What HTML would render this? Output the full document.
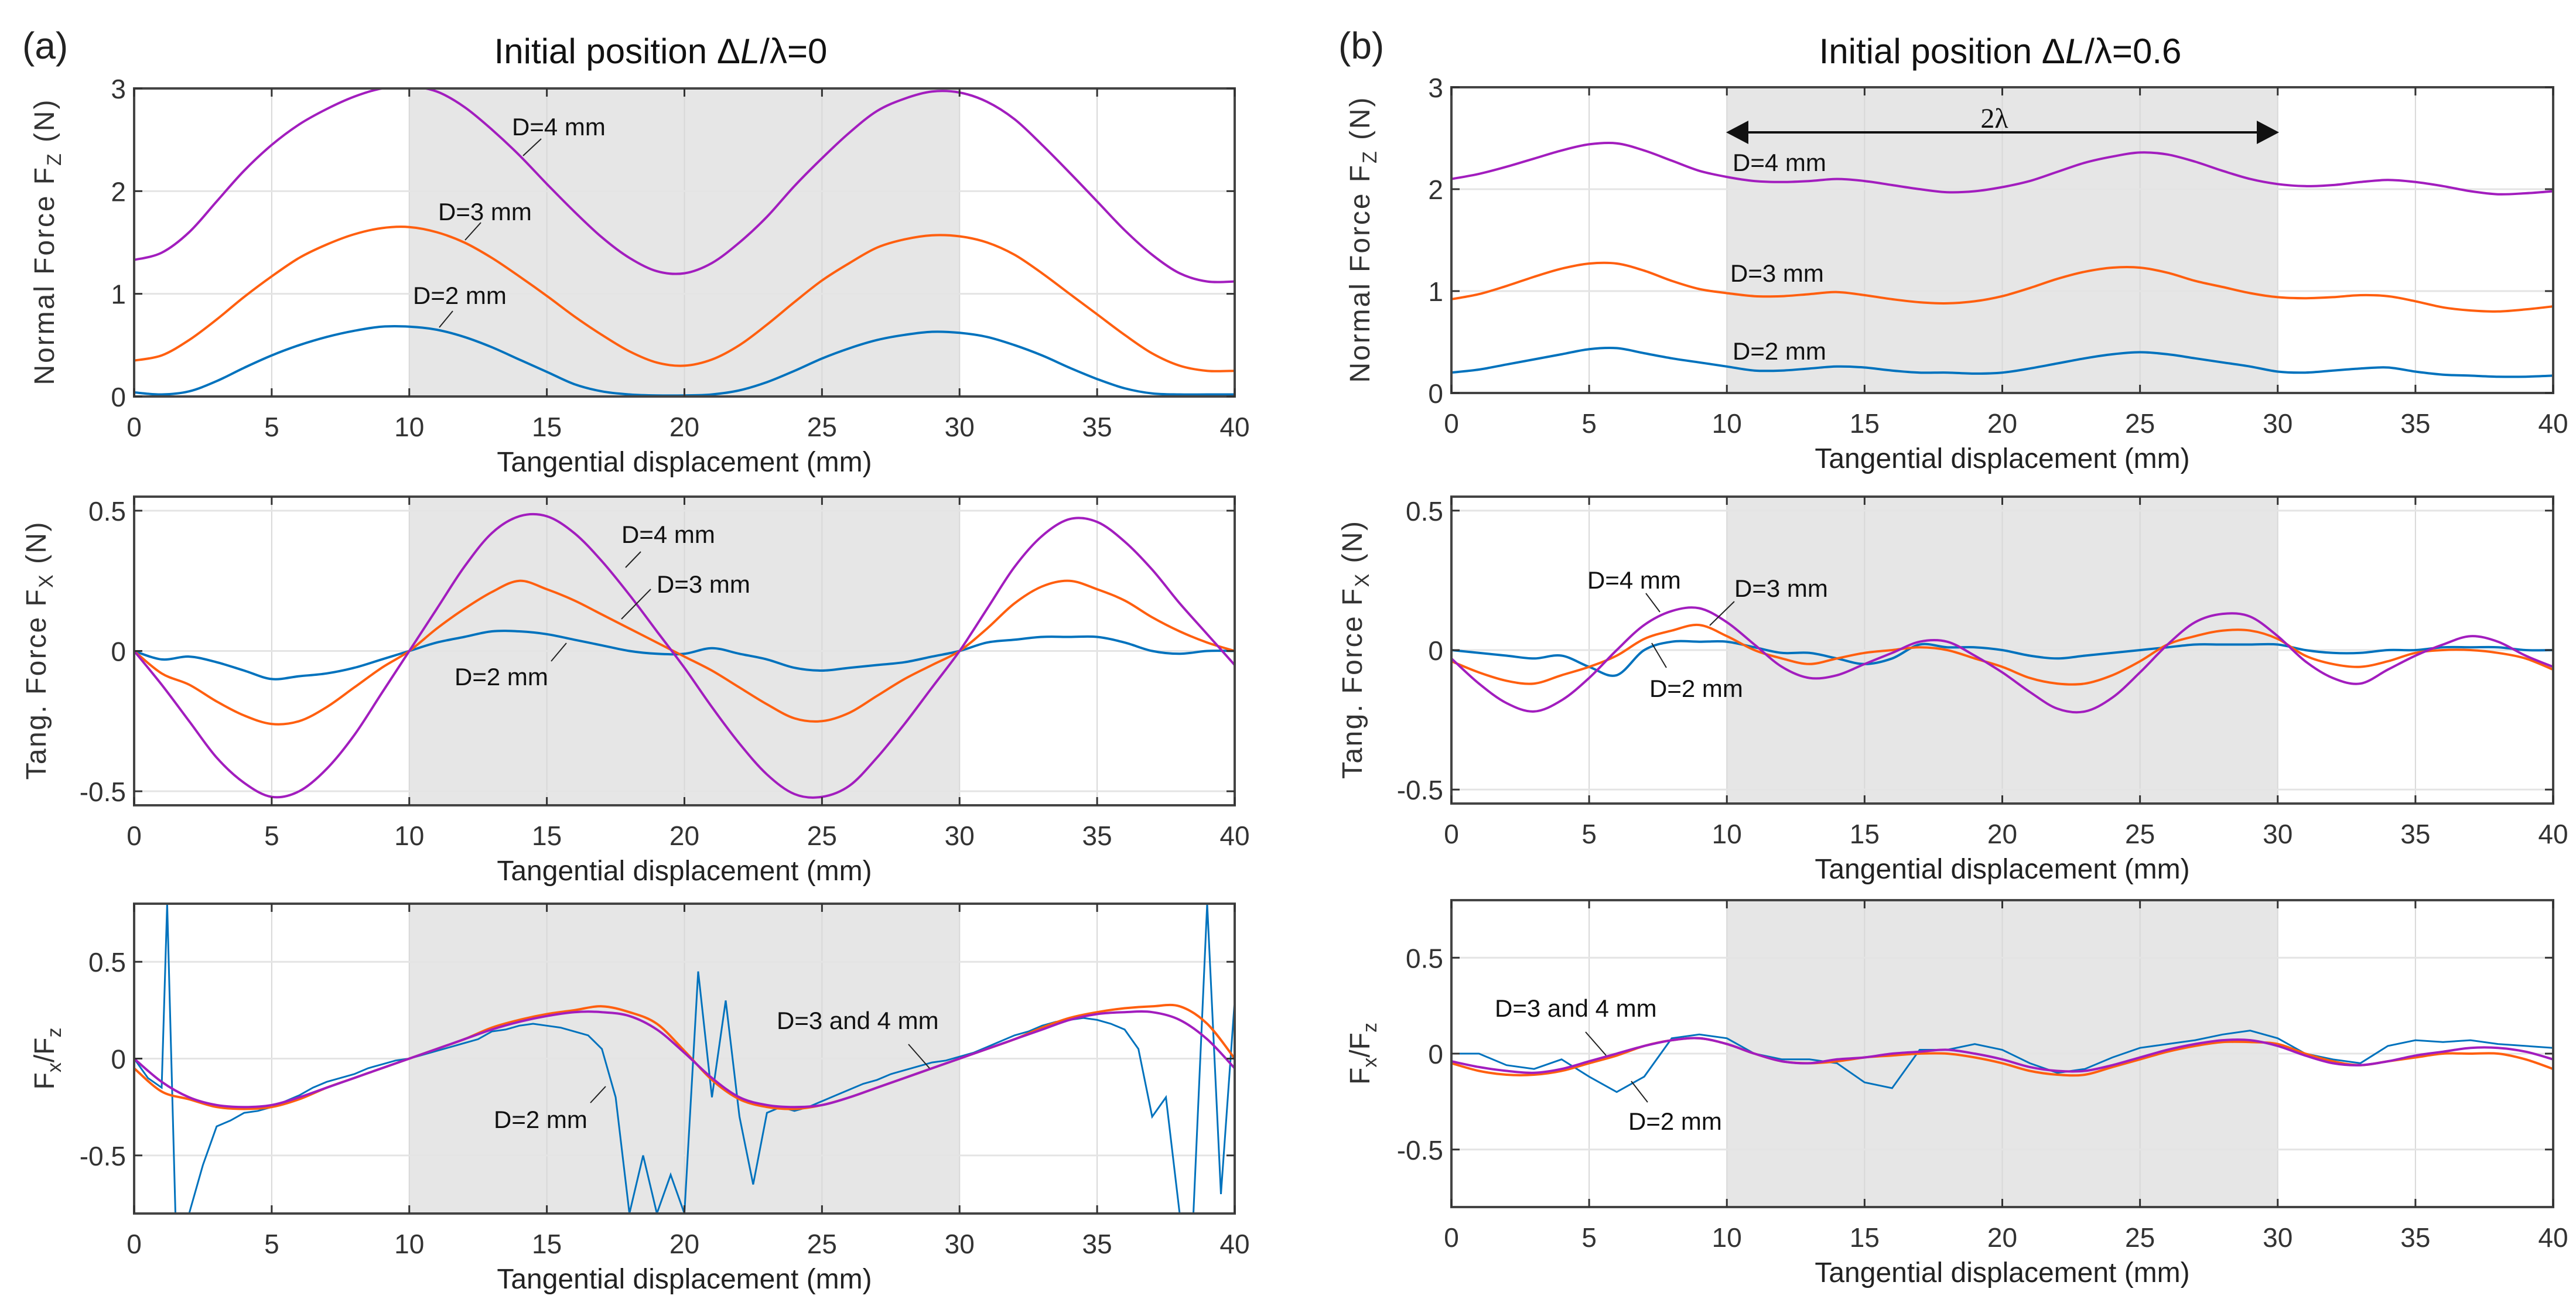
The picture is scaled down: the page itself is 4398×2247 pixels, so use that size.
<!DOCTYPE html>
<html><head><meta charset="utf-8"><style>
body{margin:0;background:#fff}
svg{display:block;font-family:"Liberation Sans",sans-serif}
</style></head><body>
<svg id="fig" width="4398" height="2247" viewBox="0 0 4398 2247" xmlns="http://www.w3.org/2000/svg">
<rect width="4398" height="2247" fill="#fff"/>
<text x="38" y="100" font-size="64" fill="#222">(a)</text>
<text x="1128" y="108" font-size="60" text-anchor="middle" fill="#111">Initial position Δ<tspan font-style="italic">L</tspan>/λ=0</text>
<text x="2285" y="100" font-size="64" fill="#222">(b)</text>
<text x="3415" y="108" font-size="60" text-anchor="middle" fill="#111">Initial position Δ<tspan font-style="italic">L</tspan>/λ=0.6</text>
</svg>
<script>
const xTicks=[0,5,10,15,20,25,30,35,40];
const xs=[0,1,2,3,4,5,6,7,8,9,10,11,12,13,14,15,16,17,18,19,20,21,22,23,24,25,26,27,28,29,30,31,32,33,34,35,36,37,38,39,40];
// Panel a, Fz
const aFz4=[1.33,1.4,1.6,1.9,2.2,2.45,2.65,2.8,2.92,3.0,3.02,2.97,2.82,2.6,2.35,2.07,1.8,1.55,1.35,1.22,1.2,1.3,1.5,1.75,2.05,2.32,2.57,2.78,2.9,2.97,2.96,2.87,2.7,2.45,2.18,1.9,1.62,1.38,1.2,1.12,1.12];
const aFz3=[0.35,0.4,0.55,0.75,0.97,1.17,1.35,1.48,1.58,1.64,1.65,1.6,1.5,1.35,1.17,0.98,0.78,0.6,0.44,0.33,0.3,0.36,0.5,0.7,0.92,1.13,1.3,1.45,1.53,1.57,1.56,1.5,1.38,1.2,1.0,0.8,0.6,0.42,0.3,0.25,0.25];
const aFz2=[0.04,0.02,0.05,0.15,0.28,0.4,0.5,0.58,0.64,0.68,0.68,0.65,0.58,0.48,0.36,0.24,0.12,0.05,0.02,0.01,0.01,0.02,0.06,0.14,0.25,0.37,0.47,0.55,0.6,0.63,0.62,0.58,0.5,0.4,0.28,0.17,0.08,0.03,0.02,0.02,0.02];
// Panel a, Fx
const aFx4=[0,-0.12,-0.25,-0.38,-0.47,-0.52,-0.5,-0.42,-0.3,-0.15,0,0.15,0.3,0.42,0.48,0.48,0.42,0.32,0.2,0.07,-0.06,-0.2,-0.33,-0.44,-0.51,-0.52,-0.48,-0.38,-0.26,-0.13,0,0.15,0.3,0.41,0.47,0.46,0.39,0.29,0.17,0.06,-0.05];
const aFx3=[0,-0.08,-0.12,-0.18,-0.23,-0.26,-0.25,-0.2,-0.13,-0.06,0,0.08,0.15,0.21,0.25,0.22,0.18,0.13,0.08,0.03,-0.02,-0.07,-0.13,-0.19,-0.24,-0.25,-0.22,-0.16,-0.1,-0.05,0,0.08,0.17,0.23,0.25,0.22,0.18,0.12,0.07,0.03,0];
const aFx2=[0,-0.03,-0.02,-0.04,-0.07,-0.1,-0.09,-0.08,-0.06,-0.03,0,0.03,0.05,0.07,0.07,0.06,0.04,0.02,0,-0.01,-0.01,0.01,-0.01,-0.03,-0.06,-0.07,-0.06,-0.05,-0.04,-0.02,0,0.03,0.04,0.05,0.05,0.05,0.03,0,-0.01,0,0];
// Panel a, ratio
const aR4=[0,-0.12,-0.2,-0.24,-0.25,-0.24,-0.2,-0.15,-0.1,-0.05,0,0.05,0.1,0.15,0.19,0.22,0.24,0.24,0.22,0.15,0.03,-0.1,-0.2,-0.24,-0.25,-0.24,-0.2,-0.15,-0.1,-0.05,0,0.05,0.1,0.15,0.2,0.23,0.24,0.24,0.2,0.1,-0.05];
const aR3=[-0.05,-0.17,-0.21,-0.25,-0.26,-0.25,-0.21,-0.15,-0.1,-0.05,0,0.05,0.1,0.16,0.2,0.23,0.25,0.27,0.24,0.18,0.04,-0.11,-0.21,-0.25,-0.26,-0.24,-0.2,-0.15,-0.1,-0.05,0,0.05,0.1,0.16,0.21,0.24,0.26,0.27,0.27,0.18,0.0];
const xsHalf=[0,0.5,1,1.2,1.5,2,2.5,3,3.5,4,4.5,5,5.5,6,6.5,7,7.5,8,8.5,9,9.5,10,10.5,11,11.5,12,12.5,13,13.5,14,14.5,15,15.5,16,16.5,17,17.5,18,18.5,19,19.5,20,20.5,21,21.5,22,22.5,23,23.5,24,24.5,25,25.5,26,26.5,27,27.5,28,28.5,29,29.5,30,30.5,31,31.5,32,32.5,33,33.5,34,34.5,35,35.5,36,36.5,37,37.5,38,38.5,39,39.5,40];
const aR2=[0,-0.1,-0.15,0.8,-0.8,-0.8,-0.55,-0.35,-0.32,-0.28,-0.27,-0.25,-0.22,-0.19,-0.15,-0.12,-0.1,-0.08,-0.05,-0.03,-0.01,0,0.02,0.04,0.06,0.08,0.1,0.14,0.15,0.17,0.18,0.17,0.16,0.14,0.12,0.05,-0.2,-0.8,-0.5,-0.8,-0.6,-0.8,0.45,-0.2,0.3,-0.3,-0.65,-0.28,-0.25,-0.27,-0.25,-0.22,-0.19,-0.16,-0.13,-0.11,-0.08,-0.06,-0.04,-0.02,-0.01,0.01,0.03,0.06,0.09,0.12,0.14,0.17,0.19,0.2,0.21,0.2,0.18,0.15,0.05,-0.3,-0.2,-0.8,-0.8,0.8,-0.7,0.3];
// Panel b, Fz
const bFz4=[2.1,2.15,2.22,2.3,2.38,2.44,2.45,2.38,2.28,2.18,2.12,2.08,2.07,2.08,2.1,2.08,2.04,2.0,1.97,1.98,2.02,2.08,2.17,2.26,2.32,2.36,2.34,2.27,2.18,2.1,2.05,2.03,2.04,2.07,2.09,2.07,2.03,1.98,1.95,1.96,1.98];
const bFz3=[0.92,0.97,1.05,1.14,1.22,1.27,1.27,1.2,1.1,1.02,0.98,0.95,0.95,0.97,0.99,0.96,0.92,0.89,0.88,0.9,0.95,1.03,1.12,1.19,1.23,1.23,1.18,1.1,1.04,0.98,0.94,0.93,0.94,0.96,0.95,0.9,0.84,0.81,0.8,0.82,0.85];
const bFz2=[0.2,0.23,0.28,0.33,0.38,0.43,0.44,0.39,0.34,0.3,0.26,0.22,0.22,0.24,0.26,0.25,0.22,0.2,0.2,0.19,0.2,0.24,0.29,0.34,0.38,0.4,0.38,0.34,0.3,0.26,0.21,0.2,0.22,0.24,0.25,0.21,0.18,0.17,0.16,0.16,0.17];
// Panel b, Fx
const bFx4=[-0.03,-0.12,-0.19,-0.22,-0.18,-0.1,0.0,0.09,0.14,0.15,0.1,0.02,-0.06,-0.1,-0.09,-0.05,-0.01,0.03,0.03,-0.02,-0.08,-0.15,-0.21,-0.22,-0.17,-0.08,0.02,0.1,0.13,0.12,0.05,-0.04,-0.1,-0.12,-0.07,-0.02,0.02,0.05,0.03,-0.02,-0.06];
const bFx3=[-0.04,-0.08,-0.11,-0.12,-0.09,-0.06,-0.02,0.04,0.07,0.09,0.05,0.0,-0.03,-0.05,-0.03,-0.01,0.0,0.01,0.0,-0.03,-0.06,-0.1,-0.12,-0.12,-0.09,-0.04,0.02,0.05,0.07,0.07,0.04,-0.02,-0.05,-0.06,-0.04,-0.01,0.0,0.0,-0.01,-0.03,-0.07];
const bFx2=[0.0,-0.01,-0.02,-0.03,-0.02,-0.06,-0.09,0.0,0.03,0.03,0.03,0.01,-0.01,-0.01,-0.03,-0.05,-0.03,0.02,0.01,0.01,0.0,-0.02,-0.03,-0.02,-0.01,0.0,0.01,0.02,0.02,0.02,0.02,0.0,-0.01,-0.01,0.0,0.0,0.01,0.01,0.01,0.0,0.0];
// Panel b, ratio
const bR4=[-0.04,-0.07,-0.09,-0.1,-0.08,-0.04,0.0,0.04,0.07,0.08,0.05,0.0,-0.04,-0.05,-0.03,-0.02,0.0,0.01,0.02,0.0,-0.03,-0.07,-0.09,-0.09,-0.06,-0.02,0.02,0.05,0.07,0.07,0.04,-0.01,-0.05,-0.06,-0.04,-0.01,0.01,0.03,0.03,0.01,-0.03];
const bR3=[-0.05,-0.09,-0.11,-0.11,-0.09,-0.05,-0.01,0.04,0.07,0.08,0.05,0.0,-0.04,-0.05,-0.04,-0.02,-0.01,0.0,0.0,-0.02,-0.05,-0.09,-0.11,-0.11,-0.07,-0.03,0.01,0.04,0.06,0.06,0.05,0.0,-0.04,-0.06,-0.04,-0.02,0.0,0.0,0.0,-0.03,-0.08];
const bR2=[0.0,0.0,-0.06,-0.08,-0.03,-0.12,-0.2,-0.12,0.08,0.1,0.08,0.0,-0.03,-0.03,-0.05,-0.15,-0.18,0.02,0.02,0.05,0.02,-0.05,-0.1,-0.08,-0.02,0.03,0.05,0.07,0.1,0.12,0.08,0.0,-0.03,-0.05,0.04,0.07,0.06,0.07,0.05,0.04,0.03];

const C={b:'#0072BD',o:'#FF5F0F',p:'#A21DBE'};
const NS='http://www.w3.org/2000/svg';
const svg=document.getElementById('fig');
function mk(tag,attrs,parent){const e=document.createElementNS(NS,tag);for(const k in attrs)e.setAttribute(k,attrs[k]);(parent||svg).appendChild(e);return e;}

function smooth(pts){let d='M'+pts[0][0]+','+pts[0][1];for(let i=0;i<pts.length-1;i++){const p0=pts[i-1]||pts[i],p1=pts[i],p2=pts[i+1],p3=pts[i+2]||p2;const c1=[p1[0]+(p2[0]-p0[0])/6,p1[1]+(p2[1]-p0[1])/6],c2=[p2[0]-(p3[0]-p1[0])/6,p2[1]-(p3[1]-p1[1])/6];d+=' C'+c1[0].toFixed(1)+','+c1[1].toFixed(1)+' '+c2[0].toFixed(1)+','+c2[1].toFixed(1)+' '+p2[0].toFixed(1)+','+p2[1].toFixed(1);}return d;}

function panel(o){
  const g=mk('g',{});
  
  
  const X=v=>o.x0+(v-0)/(40)*(o.x1-o.x0);
  const Y=v=>o.y1-(v-o.ymin)/(o.ymax-o.ymin)*(o.y1-o.y0);
  const sh=mk('rect',{x:X(10),y:o.y0,width:X(30)-X(10),height:o.y1-o.y0,fill:'#e6e6e6'},g);
  
  
  xTicks.forEach(t=>{if(t>0&&t<40){const l=mk('line',{x1:X(t),x2:X(t),y1:o.y0,y2:o.y1,stroke:'#d8d8d8','stroke-width':2},g);}});
  o.yt.forEach(t=>{const l=mk('line',{x1:o.x0,x2:o.x1,y1:Y(t),y2:Y(t),stroke:'#e4e4e4','stroke-width':3},g);});
  const clipId='c'+o.name;
  const cp=mk('clipPath',{id:clipId},g);mk('rect',{x:o.x0,y:o.y0,width:o.x1-o.x0,height:o.y1-o.y0},cp);
  o.series.forEach(s=>{
    const xv=s.x||xs;
    const pts=xv.map((x,i)=>[X(x),Y(s.v[i])]);
    const d=s.raw?'M'+pts.map(p=>p[0].toFixed(1)+','+p[1].toFixed(1)).join(' L'):smooth(pts);
    const p=mk('path',{d:d,fill:'none',stroke:s.c,'stroke-width':s.w||4,'clip-path':'url(#'+clipId+')'},g);
    
    
  });
  const box=mk('rect',{x:o.x0,y:o.y0,width:o.x1-o.x0,height:o.y1-o.y0,fill:'none',stroke:'#444','stroke-width':4},g);
  
  
  xTicks.forEach(t=>{
    mk('line',{x1:X(t),x2:X(t),y1:o.y1,y2:o.y1-14,stroke:'#333','stroke-width':3},g);
    mk('line',{x1:X(t),x2:X(t),y1:o.y0,y2:o.y0+14,stroke:'#333','stroke-width':3},g);
    const tx=mk('text',{x:X(t),y:o.y1+68,'font-size':46,'text-anchor':'middle',fill:'#333'},g);
    tx.textContent=t;
    
    
  });
  o.yt.forEach((t,i)=>{
    mk('line',{x1:o.x0,x2:o.x0+14,y1:Y(t),y2:Y(t),stroke:'#333','stroke-width':3},g);
    mk('line',{x1:o.x1,x2:o.x1-14,y1:Y(t),y2:Y(t),stroke:'#333','stroke-width':3},g);
    const tx=mk('text',{x:o.x0-14,y:Y(t)+17,'font-size':46,'text-anchor':'end',fill:'#333'},g);
    tx.textContent=o.ytl[i];
    
    
  });
  const xl=mk('text',{x:(o.x0+o.x1)/2,y:o.y1+128,'font-size':48,'text-anchor':'middle',fill:'#222'},g);
  xl.textContent='Tangential displacement (mm)';
  
  
  const yc=(o.y0+o.y1)/2;
  const yl=mk('text',{x:0,y:0,'font-size':48,'text-anchor':'middle',fill:'#333',transform:'translate('+(o.ylx)+','+yc+') rotate(-90)'},g);
  yl.innerHTML=o.ylab;
  if(o.ylen)yl.setAttribute('textLength',o.ylen);
  
  
  (o.ann||[]).forEach(a=>{
    if(a.l){const l=mk('line',{x1:a.l[0],y1:a.l[1],x2:a.l[2],y2:a.l[3],stroke:'#222','stroke-width':2},g);}
    const t=mk('text',{x:a.x,y:a.y,'font-size':42,fill:'#111'},g);
    t.textContent=a.t;
    
    
  });
  return g;
}
const fz='Normal Force F<tspan font-size="34" dy="12">Z</tspan><tspan dy="-12"> (N)</tspan>';
const fx='Tang. Force F<tspan font-size="34" dy="12">X</tspan><tspan dy="-12"> (N)</tspan>';
const rr='F<tspan font-size="34" dy="12">x</tspan><tspan dy="-12">/F</tspan><tspan font-size="34" dy="12">z</tspan>';
const L={x0:229,x1:2108}, R={x0:2478,x1:4359};
panel({name:'a-normal-force',...L,y0:151,y1:677,ymin:0,ymax:3,yt:[0,1,2,3],ytl:['0','1','2','3'],ylab:fz,ylx:92,ylen:487,
 series:[{v:aFz2,c:C.b,n:'a-fz-d2'},{v:aFz3,c:C.o,n:'a-fz-d3'},{v:aFz4,c:C.p,n:'a-fz-d4'}],
 ann:[{t:'D=4 mm',x:874,y:231,l:[924,237,893,266]},{t:'D=3 mm',x:748,y:376,l:[821,380,794,410]},{t:'D=2 mm',x:705,y:519,l:[773,531,750,559]}]});
panel({name:'a-tangential-force',...L,y0:848,y1:1375,ymin:-0.55,ymax:0.55,yt:[-0.5,0,0.5],ytl:['-0.5','0','0.5'],ylab:fx,ylx:78,ylen:440,
 series:[{v:aFx2,c:C.b,n:'a-fx-d2'},{v:aFx3,c:C.o,n:'a-fx-d3'},{v:aFx4,c:C.p,n:'a-fx-d4'}],
 ann:[{t:'D=4 mm',x:1061,y:927,l:[1094,942,1068,969]},{t:'D=3 mm',x:1121,y:1012,l:[1111,1006,1061,1057]},{t:'D=2 mm',x:776,y:1170,l:[967,1098,941,1129]}]});
panel({name:'a-force-ratio',...L,y0:1543,y1:2072,ymin:-0.8,ymax:0.8,yt:[-0.5,0,0.5],ytl:['-0.5','0','0.5'],ylab:rr,ylx:92,
 series:[{v:aR2,x:xsHalf,c:C.b,n:'a-ratio-d2',raw:true,w:3},{v:aR3,c:C.o,n:'a-ratio-d3'},{v:aR4,c:C.p,n:'a-ratio-d4'}],
 ann:[{t:'D=3 and 4 mm',x:1326,y:1757,l:[1551,1783,1587,1824]},{t:'D=2 mm',x:843,y:1926,l:[1034,1855,1008,1883]}]});
panel({name:'b-normal-force',...R,y0:149,y1:671,ymin:0,ymax:3,yt:[0,1,2,3],ytl:['0','1','2','3'],ylab:fz,ylx:2338,ylen:487,
 series:[{v:bFz2,c:C.b,n:'b-fz-d2'},{v:bFz3,c:C.o,n:'b-fz-d3'},{v:bFz4,c:C.p,n:'b-fz-d4'}],
 ann:[{t:'D=4 mm',x:2958,y:292},{t:'D=3 mm',x:2954,y:481},{t:'D=2 mm',x:2958,y:614}]});
panel({name:'b-tangential-force',...R,y0:848,y1:1372,ymin:-0.55,ymax:0.55,yt:[-0.5,0,0.5],ytl:['-0.5','0','0.5'],ylab:fx,ylx:2325,ylen:440,
 series:[{v:bFx2,c:C.b,n:'b-fx-d2'},{v:bFx3,c:C.o,n:'b-fx-d3'},{v:bFx4,c:C.p,n:'b-fx-d4'}],
 ann:[{t:'D=4 mm',x:2710,y:1005,l:[2810,1013,2834,1045]},{t:'D=3 mm',x:2961,y:1019,l:[2961,1027,2919,1068]},{t:'D=2 mm',x:2816,y:1190,l:[2845,1140,2820,1098]}]});
panel({name:'b-force-ratio',...R,y0:1537,y1:2061,ymin:-0.8,ymax:0.8,yt:[-0.5,0,0.5],ytl:['-0.5','0','0.5'],ylab:rr,ylx:2338,
 series:[{v:bR2,c:C.b,n:'b-ratio-d2',raw:true,w:3},{v:bR3,c:C.o,n:'b-ratio-d3'},{v:bR4,c:C.p,n:'b-ratio-d4'}],
 ann:[{t:'D=3 and 4 mm',x:2552,y:1736,l:[2707,1762,2742,1802]},{t:'D=2 mm',x:2780,y:1929,l:[2813,1882,2785,1846]}]});
// 2λ arrow
const ar=mk('g',{});


mk('line',{x1:2975,y1:226,x2:3863,y2:226,stroke:'#111','stroke-width':4},ar);
mk('polygon',{points:'2947,226 2985,206 2985,246',fill:'#111'},ar);
mk('polygon',{points:'3891,226 3853,206 3853,246',fill:'#111'},ar);
const lt=mk('text',{x:3405,y:218,'font-size':48,'text-anchor':'middle',fill:'#111','font-family':'Liberation Serif, serif'},ar);
lt.textContent='2λ';


</script>
</body></html>
